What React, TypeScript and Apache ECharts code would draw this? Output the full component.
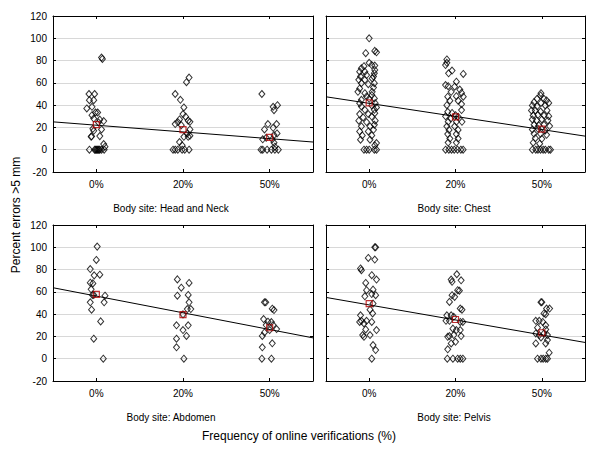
import React, { useEffect, useRef } from "react";
import * as echarts from "echarts";

const categories = ["0%", "20%", "50%"];
const panelTitles = [
  "Body site: Head and Neck",
  "Body site: Chest",
  "Body site: Abdomen",
  "Body site: Pelvis",
];
const yTitle = "Percent errors >5 mm";
const xTitle = "Frequency of online verifications (%)";

// [jitter offset in category units, percent errors]
const headNeck0 = [[0.06,82.7],[0.07,81.5],[-0.085,50],[-0.02,50],[-0.08,44.5],[-0.03,44.5],[-0.11,37],[-0.05,38.5],[-0.01,33.4],[0.015,33.4],[-0.05,31],[-0.03,28],[0.04,27],[0.085,25.7],[0.025,24.5],[-0.04,18.8],[0.06,18.2],[-0.03,17],[-0.06,11.6],[-0.055,12],[0.04,12.2],[0.085,5.1],[0.1,2.7],[-0.08,0],[-0.02,0],[-0.01,0],[0,0],[0.01,0],[0.02,0],[0.03,0],[0.04,0],[0.06,0],[0.09,0]];
const headNeck20 = [[0.07,64.8],[0.04,60.6],[-0.09,50],[-0.03,44.8],[0.01,37.9],[0,32],[0.03,29.6],[-0.04,27.2],[0.06,26],[0.08,25],[-0.06,24.8],[-0.09,23],[-0.02,22],[0.08,18.2],[0.05,14.6],[0.06,11.6],[0.01,11.6],[0.08,12.5],[-0.04,6.9],[-0.01,3.9],[-0.115,0],[-0.09,0],[-0.06,0],[-0.01,0],[0.02,0],[0.07,0]];
const headNeck50 = [[-0.09,50],[0.09,40],[0.04,38.5],[0.05,35.5],[0.08,23],[-0.02,23],[0.04,19.7],[-0.06,18.2],[0.085,14.6],[0.05,13.1],[-0.04,10.7],[-0.08,9.3],[0.03,9.3],[0.05,6.3],[0.06,2.7],[-0.1,0],[-0.08,0],[-0.03,0],[0.02,0],[0.06,0],[0.1,0]];

const chest0 = [[0,100],[-0.04,86.6],[0.065,88.7],[0.085,87.4],[0,78],[0.03,76],[-0.06,75],[0.065,75.5],[-0.09,73],[0.065,71.6],[-0.11,70],[-0.05,70],[0.06,68.7],[-0.1,65.7],[-0.03,67],[0.05,65.7],[-0.12,62.7],[-0.05,62.7],[0.035,64],[-0.09,59.7],[-0.01,58.8],[0.06,59.7],[-0.11,55],[0.05,55.8],[-0.13,52],[-0.05,50.7],[0.035,52],[-0.03,47.8],[0.03,49],[-0.09,44.8],[0,45.7],[0.06,46],[-0.11,41.8],[0.07,41.8],[-0.09,38.8],[0.03,39.7],[0.085,37.9],[-0.05,35.8],[0.06,35.8],[-0.11,32],[-0.01,32],[0.065,32.8],[-0.07,29],[0.03,29.8],[-0.12,26],[-0.03,24.8],[0.07,26],[-0.09,21],[0.01,21],[0.06,22.4],[-0.11,16.4],[-0.01,16.4],[0.05,17.9],[-0.08,12.8],[0.03,12.8],[-0.1,9],[0.01,9],[0.085,6],[0.065,3.9],[-0.06,0],[-0.03,0],[0,0],[0.06,0],[0.085,0]];
const chest20 = [[-0.1,81],[-0.1,78],[-0.115,76],[-0.04,71],[-0.08,68.6],[0.09,68],[0.01,61],[-0.115,58],[-0.085,57],[-0.01,56.6],[0.05,54],[-0.05,52],[0.07,51],[-0.09,47.6],[0.01,48],[0.09,47.6],[-0.065,44],[0.03,44],[-0.1,40],[0.07,41],[-0.09,34],[-0.04,33],[0,31],[0.07,35.6],[-0.115,30],[-0.055,28],[0.03,29.5],[-0.085,25],[0.01,25],[0.075,25],[-0.1,21],[-0.01,21],[-0.075,17.8],[0.03,17.8],[-0.09,14],[0.01,14],[-0.065,10],[0.03,10],[-0.085,6.4],[0.01,6.4],[-0.115,0],[-0.077,0],[-0.046,0],[-0.015,0],[0.023,0],[0.062,0],[0.088,0]];
const chest50 = [[-0.01,50.7],[-0.015,48.7],[-0.055,45.7],[0.025,45.7],[0.055,44.2],[-0.09,42.7],[-0.01,42],[0.08,42],[-0.11,39.7],[-0.055,39],[0.04,39.7],[-0.12,35.2],[-0.075,35.2],[-0.015,34.3],[0.06,35.2],[-0.1,30.7],[-0.045,31.3],[0.025,30.7],[0.08,30.1],[-0.11,27.2],[-0.06,26.3],[0,27.2],[0.07,26.3],[-0.09,22.4],[-0.035,21.8],[0.025,22.4],[0.09,21.2],[-0.11,18.2],[-0.045,18.8],[0.04,17.3],[-0.09,14.3],[-0.015,14.3],[0.055,13.4],[-0.075,10.4],[0,9.8],[-0.1,6.3],[-0.025,5.4],[-0.11,0],[-0.07,0],[-0.045,0],[-0.015,0],[0.015,0],[0.04,0],[0.08,0],[0.1,0]];

const abdomen0 = [[0.01,100.6],[0,88.6],[-0.07,80.5],[-0.025,74.8],[0.04,75.4],[-0.07,68.2],[-0.04,67.6],[-0.06,62.3],[-0.045,57.2],[-0.03,57.2],[0.1,56.6],[-0.07,50.6],[0.09,50.6],[-0.055,44],[0.05,33.5],[-0.03,18],[0.08,0]];
const abdomen20 = [[-0.065,71.2],[0.07,68],[-0.02,63.7],[-0.065,56.6],[0.06,57.2],[0.07,50.6],[0.05,44.6],[0.09,44.6],[0,39.8],[-0.075,30],[0.06,30],[0,25.7],[0.04,20.4],[-0.075,18],[-0.075,10.2],[0.01,0]];
const abdomen50 = [[-0.06,50.6],[-0.045,50.6],[0.03,44.9],[0.05,43.7],[-0.07,35.6],[-0.02,33.2],[0.02,32.9],[-0.04,30.2],[0.04,30.2],[0.08,26.6],[-0.06,23.6],[0,25.7],[-0.085,20.4],[0.03,13.8],[-0.085,10.2],[-0.09,0],[0.02,0]];

const pelvis0 = [[0.065,100],[0.075,100],[-0.01,90.4],[0.065,89],[-0.1,81],[-0.09,79.4],[0.03,75],[0.085,71],[-0.04,68],[-0.03,61.5],[0.045,62],[0.075,57],[-0.05,56],[0.03,58],[0.045,49.5],[0.01,44],[0.04,40.6],[-0.1,39],[-0.09,34],[-0.03,34],[0.03,33],[-0.11,33],[-0.06,31.6],[-0.04,26.3],[0.085,25.7],[-0.075,21.2],[-0.06,19.7],[0.01,21.2],[0.045,12.2],[0.075,7.8],[0.03,0]];
const pelvis20 = [[0.015,75.8],[-0.05,71],[-0.04,69],[0.065,70.4],[0.025,61.5],[0.045,61],[-0.04,57],[-0.01,55.5],[-0.07,51],[0.055,45],[0.075,44],[-0.1,39],[-0.05,39],[-0.02,37.6],[-0.11,34],[-0.07,34],[0.055,33],[0.085,33],[-0.03,27],[0.01,25.7],[0.055,25.7],[-0.09,19.7],[-0.07,20.3],[-0.02,21.2],[0.065,20.3],[-0.05,13.7],[0,15.2],[-0.09,8.4],[-0.095,0],[-0.03,0],[0.025,0],[0.055,0],[0.085,0]];
const pelvis50 = [[-0.01,50.7],[0,50.7],[0.055,45],[0.09,45],[0.025,40.6],[0.045,40],[-0.07,34],[-0.03,34],[0.01,33],[0.045,30],[-0.05,27.8],[0.045,26.3],[-0.07,22.7],[-0.03,21.2],[0.025,22.7],[0.065,21.2],[-0.01,19.1],[0.065,16.7],[-0.07,13.7],[0.045,13.7],[0.085,5.4],[-0.05,0],[-0.01,0],[0.015,0],[0.045,0],[0.065,0]];

const headNeckMeans = [22.5, 18, 11];
const chestMeans = [42, 29.5, 18.5];
const abdomenMeans = [57.8, 39.5, 27.8];
const pelvisMeans = [49.5, 35.2, 23.3];

// regression line values at left edge (-0.5) and right edge (2.5)
const headNeckFit = [25, 6.9];
const chestFit = [47.5, 12.2];
const abdomenFit = [63.7, 18.7];
const pelvisFit = [55, 14.6];

const panels = [
  { groups: [headNeck0, headNeck20, headNeck50], means: headNeckMeans, fit: headNeckFit },
  { groups: [chest0, chest20, chest50], means: chestMeans, fit: chestFit },
  { groups: [abdomen0, abdomen20, abdomen50], means: abdomenMeans, fit: abdomenFit },
  { groups: [pelvis0, pelvis20, pelvis50], means: pelvisMeans, fit: pelvisFit },
];

const FONT = "'Liberation Sans', Arial, sans-serif";
const gridBoxes = [
  { left: 53, top: 16, width: 260, height: 156 },
  { left: 326, top: 16, width: 259, height: 156 },
  { left: 53, top: 225, width: 260, height: 156 },
  { left: 326, top: 225, width: 259, height: 156 },
];
const titlePos = [
  [171, 208.5],
  [454, 208.5],
  [171, 417.5],
  [454, 417.5],
];

export default function App() {
  const ref = useRef<HTMLDivElement>(null);
  useEffect(() => {
    if (!ref.current) return;
    const chart = echarts.init(ref.current, null, { renderer: "svg" });
    const xAxis: any[] = [];
    const yAxis: any[] = [];
    const series: any[] = [];
    panels.forEach((p, i) => {
      const tickVals = [0, 1, 2];
      xAxis.push({
        gridIndex: i, type: "value", min: -0.5, max: 2.5, position: "bottom",
        axisLine: { show: true, onZero: false, lineStyle: { color: "#000", width: 1 } },
        axisTick: { show: true, inside: true, length: 3, customValues: tickVals, lineStyle: { color: "#000" } },
        axisLabel: {
          customValues: tickVals, margin: 7, fontSize: 10, color: "#000", fontFamily: FONT,
          formatter: (v: number) => categories[Math.round(v)] ?? "",
        },
        splitLine: { show: false },
      });
      xAxis.push({
        gridIndex: i, type: "value", min: -0.5, max: 2.5, position: "top",
        axisLine: { show: true, onZero: false, lineStyle: { color: "#000", width: 1 } },
        axisTick: { show: true, inside: true, length: 3, customValues: tickVals, lineStyle: { color: "#000" } },
        axisLabel: { show: false },
        splitLine: { show: false },
      });
      const left = i % 2 === 0;
      yAxis.push({
        gridIndex: i, type: "value", min: -20, max: 120, interval: 20, position: "left",
        axisLine: { show: true, onZero: false, lineStyle: { color: "#000", width: 1 } },
        axisTick: { show: true, inside: true, length: 3, lineStyle: { color: "#000" } },
        axisLabel: { show: left, margin: 6, fontSize: 10, color: "#000", fontFamily: FONT },
        splitLine: { show: true, lineStyle: { color: "#d8d8d8", width: 1 } },
      });
      yAxis.push({
        gridIndex: i, type: "value", min: -20, max: 120, interval: 20, position: "right",
        axisLine: { show: true, onZero: false, lineStyle: { color: "#000", width: 1 } },
        axisTick: { show: true, inside: true, length: 3, lineStyle: { color: "#000" } },
        axisLabel: { show: false },
        splitLine: { show: false },
      });
      const pts = p.groups.flatMap((g, ci) => g.map(([dx, y]) => [ci + dx, y]));
      series.push({
        type: "line", xAxisIndex: 2 * i, yAxisIndex: 2 * i,
        data: [[-0.5, p.fit[0]], [2.5, p.fit[1]]],
        showSymbol: false, symbol: "none",
        lineStyle: { color: "#000", width: 1 }, z: 2, silent: true,
      });
      series.push({
        type: "scatter", xAxisIndex: 2 * i, yAxisIndex: 2 * i,
        data: pts, symbol: "diamond", symbolSize: [6, 7],
        itemStyle: { color: "rgba(255,255,255,0)", borderColor: "#000", borderWidth: 1 }, z: 3,
      });
      series.push({
        type: "scatter", xAxisIndex: 2 * i, yAxisIndex: 2 * i,
        data: p.means.map((m, ci) => [ci, m]), symbol: "rect", symbolSize: 6,
        itemStyle: { color: "rgba(255,255,255,0)", borderColor: "#b00000", borderWidth: 1.2 }, z: 4,
      });
    });
    const graphic: any[] = titlePos.map(([x, y], i) => ({
      type: "text", x, y,
      style: { text: panelTitles[i], fontSize: 10, fontFamily: FONT, fill: "#000", textAlign: "center", textVerticalAlign: "middle" },
    }));
    graphic.push({
      type: "text", x: 299, y: 435.5,
      style: { text: xTitle, fontSize: 12, fontFamily: FONT, fill: "#000", textAlign: "center", textVerticalAlign: "middle" },
    });
    graphic.push({
      type: "text", x: 16, y: 215, rotation: Math.PI / 2,
      style: { text: yTitle, fontSize: 12, fontFamily: FONT, fill: "#000", textAlign: "center", textVerticalAlign: "middle" },
    });
    chart.setOption({
      animation: false,
      backgroundColor: "#fff",
      grid: gridBoxes.map((g) => ({ ...g, containLabel: false })),
      xAxis, yAxis, series, graphic,
    });
    return () => chart.dispose();
  }, []);
  return <div ref={ref} style={{ position: "fixed", left: 0, top: 0, width: 600, height: 450 }} />;
}
